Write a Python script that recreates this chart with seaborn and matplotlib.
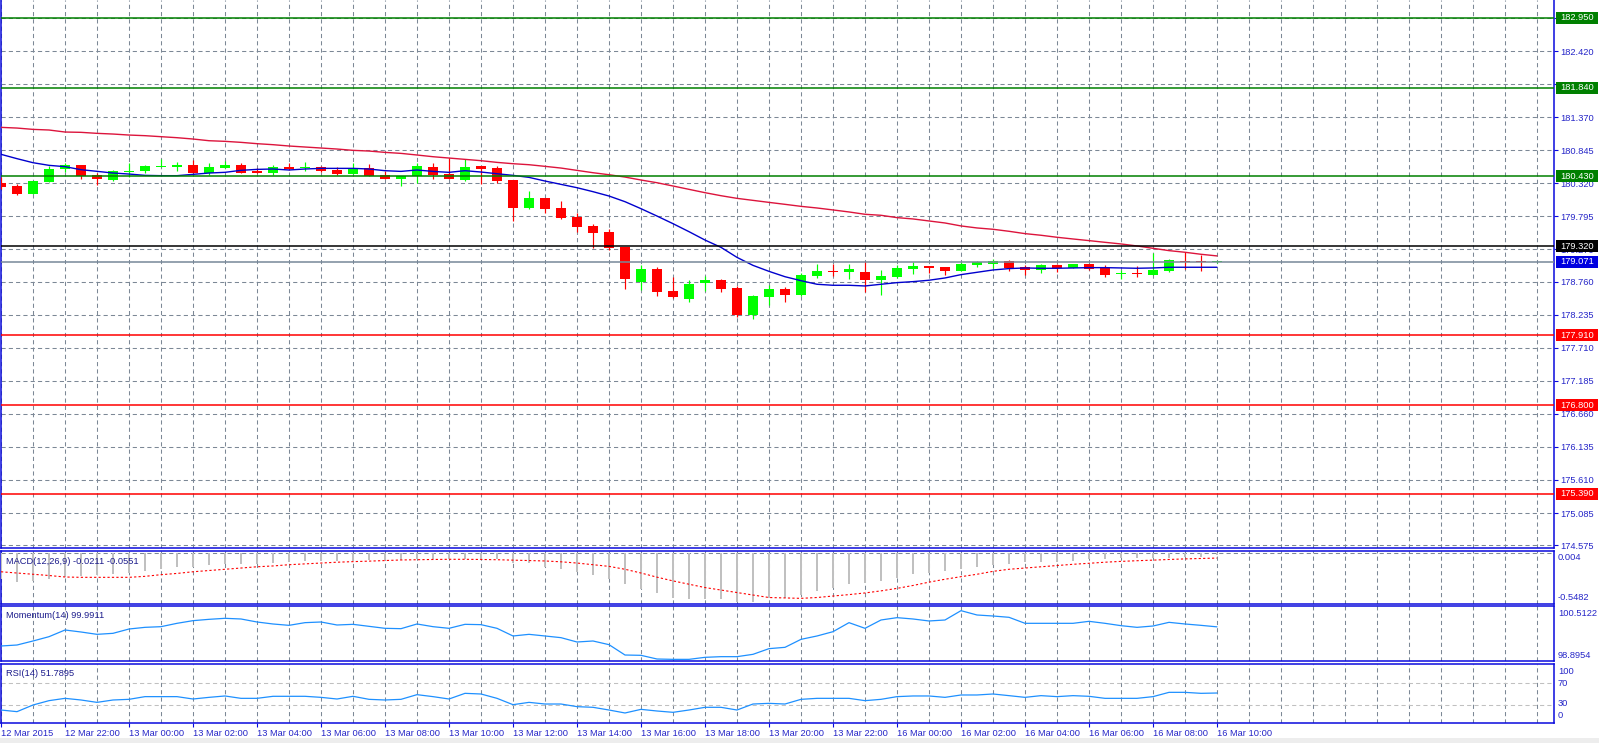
import matplotlib
matplotlib.use("Agg")
import matplotlib.pyplot as plt
import matplotlib.patches as mpatches
import numpy as np
import pandas as pd
import seaborn as sns

# ---------------- data (30-minute candles, 12 Mar 20:00 .. 16 Mar 10:00) ----------------
open_ = [180.330, 180.277, 180.155, 180.346, 180.547, 180.605, 180.446, 180.372, 180.499, 180.520,
         180.584, 180.584, 180.605, 180.483, 180.568, 180.605, 180.520, 180.489, 180.573, 180.568,
         180.573, 180.531, 180.473, 180.557, 180.446, 180.393, 180.430, 180.578, 180.467, 180.377,
         180.594, 180.562, 180.372, 179.933, 180.086, 179.927, 179.784, 179.641, 179.546, 179.313,
         178.752, 178.959, 178.610, 178.488, 178.742, 178.784, 178.657, 178.234, 178.520, 178.641,
         178.553, 178.854, 178.929, 178.918, 178.913, 178.791, 178.839, 178.960, 179.008, 178.992,
         178.929, 179.029, 179.045, 179.087, 178.992, 178.950, 179.024, 178.976, 179.040, 178.981,
         178.876, 178.886, 178.865, 178.929, 179.087, 179.082, 179.066]
high = [180.414, 180.309, 180.362, 180.600, 180.637, 180.610, 180.478, 180.531, 180.637, 180.610,
        180.700, 180.658, 180.690, 180.642, 180.674, 180.637, 180.568, 180.605, 180.637, 180.658,
        180.594, 180.573, 180.637, 180.621, 180.520, 180.436, 180.647, 180.647, 180.716, 180.700,
        180.594, 180.594, 180.372, 180.197, 180.086, 180.038, 179.843, 179.673, 179.594, 179.313,
        179.022, 178.991, 178.827, 178.779, 178.853, 178.800, 178.689, 178.551, 178.700, 178.673,
        178.890, 179.040, 179.040, 179.040, 179.087, 178.944, 179.024, 179.071, 179.008, 178.992,
        179.071, 179.087, 179.119, 179.103, 179.024, 179.040, 179.040, 179.040, 179.040, 179.024,
        178.944, 179.008, 179.214, 179.119, 179.230, 179.182, 179.085]
low = [180.224, 180.134, 180.150, 180.346, 180.504, 180.388, 180.298, 180.356, 180.415, 180.489,
       180.580, 180.520, 180.489, 180.457, 180.568, 180.489, 180.489, 180.457, 180.531, 180.520,
       180.504, 180.457, 180.473, 180.436, 180.393, 180.282, 180.329, 180.393, 180.393, 180.361,
       180.303, 180.319, 179.726, 179.917, 179.843, 179.747, 179.552, 179.287, 179.260, 178.647,
       178.620, 178.536, 178.493, 178.440, 178.615, 178.599, 178.202, 178.170, 178.393, 178.435,
       178.530, 178.823, 178.854, 178.802, 178.601, 178.548, 178.823, 178.881, 178.891, 178.865,
       178.929, 178.997, 178.976, 178.934, 178.870, 178.897, 178.913, 178.976, 178.944, 178.833,
       178.802, 178.833, 178.865, 178.913, 178.960, 178.934, 179.060]
close = [180.266, 180.155, 180.356, 180.547, 180.605, 180.436, 180.393, 180.510, 180.515, 180.594,
         180.594, 180.605, 180.489, 180.573, 180.605, 180.489, 180.489, 180.573, 180.552, 180.579,
         180.520, 180.473, 180.542, 180.436, 180.393, 180.430, 180.594, 180.456, 180.393, 180.578,
         180.552, 180.361, 179.933, 180.086, 179.917, 179.774, 179.631, 179.536, 179.297, 178.805,
         178.959, 178.599, 178.520, 178.721, 178.784, 178.647, 178.229, 178.536, 178.641, 178.551,
         178.865, 178.929, 178.918, 178.960, 178.791, 178.849, 178.976, 179.008, 178.981, 178.934,
         179.040, 179.071, 179.087, 178.981, 178.950, 179.024, 178.981, 179.040, 178.960, 178.865,
         178.886, 178.876, 178.944, 179.103, 179.077, 179.071, 179.071]
ma_fast = [180.780, 180.711, 180.647, 180.605, 180.584, 180.536, 180.510, 180.483, 180.467, 180.446,
           180.441, 180.441, 180.462, 180.483, 180.494, 180.526, 180.541, 180.547, 180.531, 180.547,
           180.557, 180.557, 180.557, 180.547, 180.520, 180.509, 180.531, 180.509, 180.494, 180.520,
           180.499, 180.472, 180.446, 180.414, 180.356, 180.303, 180.250, 180.187, 180.118, 180.028,
           179.917, 179.800, 179.679, 179.552, 179.419, 179.303, 179.144, 179.017, 178.922, 178.837,
           178.774, 178.717, 178.701, 178.701, 178.690, 178.717, 178.743, 178.759, 178.781, 178.817,
           178.870, 178.907, 178.944, 178.966, 178.976, 178.971, 178.971, 178.976, 178.981, 178.981,
           178.976, 178.971, 178.976, 178.987, 178.987, 178.987, 178.987]
ma_slow = [181.208, 181.197, 181.176, 181.166, 181.134, 181.129, 181.113, 181.102, 181.086, 181.076,
           181.060, 181.044, 181.023, 180.996, 180.986, 180.970, 180.949, 180.933, 180.912, 180.896,
           180.880, 180.864, 180.843, 180.832, 180.811, 180.795, 180.769, 180.742, 180.721, 180.700,
           180.679, 180.652, 180.631, 180.615, 180.589, 180.562, 180.525, 180.488, 180.456, 180.419,
           180.372, 180.329, 180.277, 180.224, 180.171, 180.123, 180.081, 180.049, 180.017, 179.986,
           179.954, 179.928, 179.897, 179.865, 179.828, 179.812, 179.775, 179.754, 179.722, 179.690,
           179.643, 179.611, 179.590, 179.558, 179.521, 179.495, 179.463, 179.436, 179.410, 179.383,
           179.357, 179.325, 179.288, 179.251, 179.225, 179.193, 179.167]
macd_main = [-0.307, -0.340, -0.328, -0.304, -0.280, -0.267, -0.259, -0.243, -0.231, -0.207,
             -0.187, -0.159, -0.159, -0.142, -0.127, -0.123, -0.123, -0.111, -0.102, -0.090,
             -0.090, -0.087, -0.087, -0.082, -0.082, -0.078, -0.070, -0.070, -0.070, -0.063,
             -0.063, -0.070, -0.118, -0.118, -0.159, -0.183, -0.223, -0.255, -0.311, -0.371,
             -0.424, -0.480, -0.532, -0.544, -0.544, -0.544, -0.580, -0.580, -0.540, -0.536,
             -0.504, -0.452, -0.420, -0.367, -0.359, -0.331, -0.299, -0.251, -0.239, -0.207,
             -0.183, -0.159, -0.139, -0.123, -0.106, -0.099, -0.099, -0.087, -0.070, -0.070,
             -0.054, -0.054, -0.054, -0.054, -0.039, -0.039, -0.0211]
macd_signal = [-0.220, -0.235, -0.250, -0.265, -0.283, -0.287, -0.287, -0.287, -0.287, -0.275,
               -0.255, -0.240, -0.220, -0.205, -0.190, -0.175, -0.160, -0.150, -0.135, -0.125,
               -0.115, -0.105, -0.098, -0.092, -0.085, -0.078, -0.075, -0.072, -0.070, -0.070,
               -0.072, -0.075, -0.080, -0.085, -0.090, -0.100, -0.115, -0.135, -0.155, -0.190,
               -0.235, -0.285, -0.330, -0.370, -0.410, -0.440, -0.470, -0.500, -0.530, -0.535,
               -0.540, -0.530, -0.512, -0.495, -0.475, -0.450, -0.420, -0.385, -0.345, -0.310,
               -0.279, -0.250, -0.215, -0.190, -0.175, -0.160, -0.145, -0.130, -0.118, -0.105,
               -0.095, -0.087, -0.080, -0.072, -0.065, -0.060, -0.0551]
momentum = [99.272, 99.309, 99.460, 99.622, 99.873, 99.798, 99.710, 99.748, 99.910, 99.973,
            99.998, 100.124, 100.224, 100.274, 100.312, 100.287, 100.174, 100.099, 100.048, 100.149,
            100.174, 100.061, 100.086, 100.011, 99.936, 99.923, 100.099, 99.998, 99.936, 100.086,
            100.074, 99.936, 99.648, 99.710, 99.648, 99.585, 99.422, 99.460, 99.322, 98.933,
            98.921, 98.783, 98.770, 98.770, 98.846, 98.871, 98.871, 98.959, 99.172, 99.222,
            99.522, 99.648, 99.810, 100.149, 99.936, 100.249, 100.337, 100.287, 100.212, 100.249,
            100.600, 100.437, 100.399, 100.350, 100.124, 100.124, 100.124, 100.124, 100.199, 100.124,
            100.036, 99.973, 100.023, 100.161, 100.099, 100.048, 99.9911]
rsi = [20.9, 17.9, 30.0, 37.9, 42.1, 39.1, 34.8, 39.1, 40.3, 45.2,
       45.2, 45.2, 40.9, 43.9, 46.4, 42.1, 42.1, 45.8, 45.8, 45.8,
       43.9, 40.9, 45.8, 40.3, 39.1, 40.3, 48.8, 45.2, 40.9, 51.2,
       50.0, 42.1, 30.6, 34.8, 31.8, 31.8, 27.0, 25.8, 20.9, 15.5,
       22.1, 19.1, 16.7, 20.9, 25.8, 25.8, 20.9, 31.8, 33.0, 31.8,
       40.3, 42.1, 42.1, 42.1, 37.9, 40.3, 45.2, 46.4, 46.4, 43.9,
       48.2, 48.2, 50.0, 47.0, 43.9, 47.0, 45.2, 47.0, 45.8, 42.1,
       42.1, 42.1, 45.2, 53.0, 53.0, 51.2, 51.79]

x_labels = ['12 Mar 2015', '12 Mar 22:00', '13 Mar 00:00', '13 Mar 02:00', '13 Mar 04:00',
            '13 Mar 06:00', '13 Mar 08:00', '13 Mar 10:00', '13 Mar 12:00', '13 Mar 14:00',
            '13 Mar 16:00', '13 Mar 18:00', '13 Mar 20:00', '13 Mar 22:00', '16 Mar 00:00',
            '16 Mar 02:00', '16 Mar 04:00', '16 Mar 06:00', '16 Mar 08:00', '16 Mar 10:00']
price_grid = [182.945, 182.420, 181.895, 181.370, 180.845, 180.320, 179.795, 179.270,
              178.760, 178.235, 177.710, 177.185, 176.660, 176.135, 175.610, 175.085, 174.575]
price_tick_labels = ['', '182.420', '181.895', '181.370', '180.845', '180.320', '179.795', '179.270',
                     '178.760', '178.235', '177.710', '177.185', '176.660', '176.135', '175.610',
                     '175.085', '174.575']
level_prices = [182.950, 181.840, 180.430, 179.320, 179.071, 177.910, 176.800, 175.390]
macd_title = 'MACD(12,26,9) -0.0211 -0.0551'
mom_title = 'Momentum(14) 99.9911'
rsi_title = 'RSI(14) 51.7895'
macd_axis_labels = ['0.004', '-0.5482']
mom_axis_labels = ['100.5122', '98.8954']
rsi_axis_labels = ['100', '70', '30', '0']

# ---------------- styling ----------------
sns.set_theme(style='white')
plt.rcParams['font.family'] = ['Liberation Sans', 'DejaVu Sans']

W, H = 1599, 743
FS = 6.7
SPINE = '#0A0ADC'
TXT = '#2626C8'
TITLE = '#1C1C8C'
GRID = '#7C8896'
DASH = (0, (4, 3))

level_line_colors = ['#008000', '#008000', '#008000', '#000000', '#778899', '#FF0000', '#FF0000', '#FF0000']
level_box_colors = ['#008000', '#008000', '#008000', '#000000', '#0000E0', '#FF0000', '#FF0000', '#FF0000']

df = pd.DataFrame({'k': np.arange(len(close)), 'open': open_, 'high': high, 'low': low,
                   'close': close, 'ma_fast': ma_fast, 'ma_slow': ma_slow,
                   'macd': macd_main, 'signal': macd_signal, 'mom': momentum, 'rsi': rsi})

fig = plt.figure(figsize=(W / 100, H / 100), dpi=100)
fig.patch.set_facecolor('white')


def rect(x0, y0, x1, y1):
    return [x0 / W, 1 - y1 / H, (x1 - x0) / W, (y1 - y0) / H]


XMAX = 1553 / 16.0
grid_x = np.arange(0, 98, 2)


def style_panel(ax, top=True):
    ax.set_facecolor('white')
    ax.set_xlim(0, XMAX)
    for side in ['left', 'right', 'bottom', 'top']:
        ax.spines[side].set_color(SPINE)
        ax.spines[side].set_linewidth(1.1)
    ax.spines['top'].set_visible(top)
    ax.set_xticks(grid_x)
    ax.tick_params(axis='x', length=0, labelbottom=False)
    ax.grid(True, axis='x', color=GRID, ls=DASH, lw=0.75)
    ax.set_axisbelow(True)
    ax.set_xlabel('')
    ax.set_ylabel('')


# ---------------- main price panel ----------------
ax = fig.add_axes(rect(1, 0, 1554, 548))
style_panel(ax, top=False)
ax.set_ylim(174.530, 183.230)
ax.yaxis.tick_right()
ax.set_yticks(price_grid)
ax.set_yticklabels(price_tick_labels)
ax.tick_params(axis='y', length=3, width=0.8, color=SPINE, labelsize=FS, labelcolor=TXT,
               pad=1.5, right=True, left=False)
ax.grid(True, axis='y', color=GRID, ls=DASH, lw=0.75)

bull = df['close'] >= df['open']
cols = np.where(bull, '#00FF00', '#FF0000')
ax.vlines(df['k'], df['low'], df['high'], colors=cols, lw=0.85, zorder=3)
body_bottom = np.minimum(df['open'], df['close'])
body_h = np.maximum((df['close'] - df['open']).abs(), 0.014)
ax.bar(df['k'], body_h, bottom=body_bottom, width=0.66, color=cols, linewidth=0, zorder=4)

sns.lineplot(data=df, x='k', y='ma_slow', ax=ax, color='#DC143C', lw=1.0, zorder=5)
sns.lineplot(data=df, x='k', y='ma_fast', ax=ax, color='#0000CD', lw=1.0, zorder=5)
ax.set_xlabel('')
ax.set_ylabel('')

trans = ax.get_yaxis_transform()
box_h = 0.19
for p, lc, bc in zip(level_prices, level_line_colors, level_box_colors):
    ax.axhline(p, color=lc, lw=1.1, zorder=6)
    x0 = (1556 - 1) / 1553
    bw = 42 / 1553
    ax.add_patch(mpatches.Rectangle((x0, p - box_h / 2), bw, box_h, transform=trans,
                                    facecolor=bc, edgecolor='none', clip_on=False, zorder=10))
    ax.text(x0 + bw / 2, p, f'{p:.3f}', transform=trans, ha='center', va='center',
            color='white', fontsize=FS, clip_on=False, zorder=11)

# ---------------- MACD panel ----------------
axm = fig.add_axes(rect(1, 551, 1554, 604))
style_panel(axm)
axm.set_ylim(-0.608, 0.030)
axm.set_yticks([])
axm.axhline(0, color=GRID, ls=DASH, lw=0.75, zorder=1)
axm.bar(df['k'], df['macd'], width=0.14, color='#C0C0C0', linewidth=0, zorder=3)
sns.lineplot(data=df, x='k', y='signal', ax=axm, color='#FF0000', lw=0.8,
             linestyle=(0, (2, 2)), zorder=4)
axm.set_xlabel('')
axm.set_ylabel('')

# ---------------- Momentum panel ----------------
axo = fig.add_axes(rect(1, 606, 1554, 661))
style_panel(axo)
axo.set_ylim(98.708, 100.775)
axo.set_yticks([])
sns.lineplot(data=df, x='k', y='mom', ax=axo, color='#1E90FF', lw=0.9, zorder=4)
axo.set_xlabel('')
axo.set_ylabel('')

# ---------------- RSI panel ----------------
axr = fig.add_axes(rect(1, 664, 1554, 723))
style_panel(axr)
axr.set_ylim(-2.7, 104.5)
axr.set_yticks([])
for lvl in (30, 70):
    axr.axhline(lvl, color='#C0C0C0', ls=DASH, lw=0.75, zorder=1)
sns.lineplot(data=df, x='k', y='rsi', ax=axr, color='#1E90FF', lw=0.9, zorder=4)
axr.set_xlabel('')
axr.set_ylabel('')
axr.set_xticks(np.arange(0, 4 * len(x_labels), 4))
axr.set_xticklabels(x_labels)
axr.set_xticks(grid_x, minor=True)
axr.tick_params(axis='x', which='major', length=3, width=0.8, color=SPINE, labelsize=FS,
                labelcolor=TXT, pad=1.0, labelbottom=True, bottom=True)
axr.tick_params(axis='x', which='minor', length=0)
axr.grid(True, axis='x', which='both', color=GRID, ls=DASH, lw=0.75)
for lbl in axr.get_xticklabels():
    lbl.set_ha('left')


def ftext(x, y, s, **kw):
    fig.text(x / W, 1 - y / H, s, fontsize=FS, va='center', **kw)


ftext(6, 561, macd_title, color=TITLE, ha='left')
ftext(6, 616, mom_title, color=TITLE, ha='left')
ftext(6, 674, rsi_title, color=TITLE, ha='left')

for s, y in zip(macd_axis_labels, [557, 597]):
    ftext(1558, y, s, color=TXT, ha='left')
for s, y in zip(mom_axis_labels, [613, 656]):
    ftext(1558, y, s, color=TXT, ha='left')
for s, y in zip(rsi_axis_labels, [672, 683, 704, 716]):
    ftext(1558, y, s, color=TXT, ha='left')

fig.patches.append(mpatches.Rectangle((0, 0), 1, 5 / H, transform=fig.transFigure,
                                      facecolor='#EDEDED', edgecolor='none', zorder=0))

fig.savefig('out.png', dpi=100, facecolor='white')
